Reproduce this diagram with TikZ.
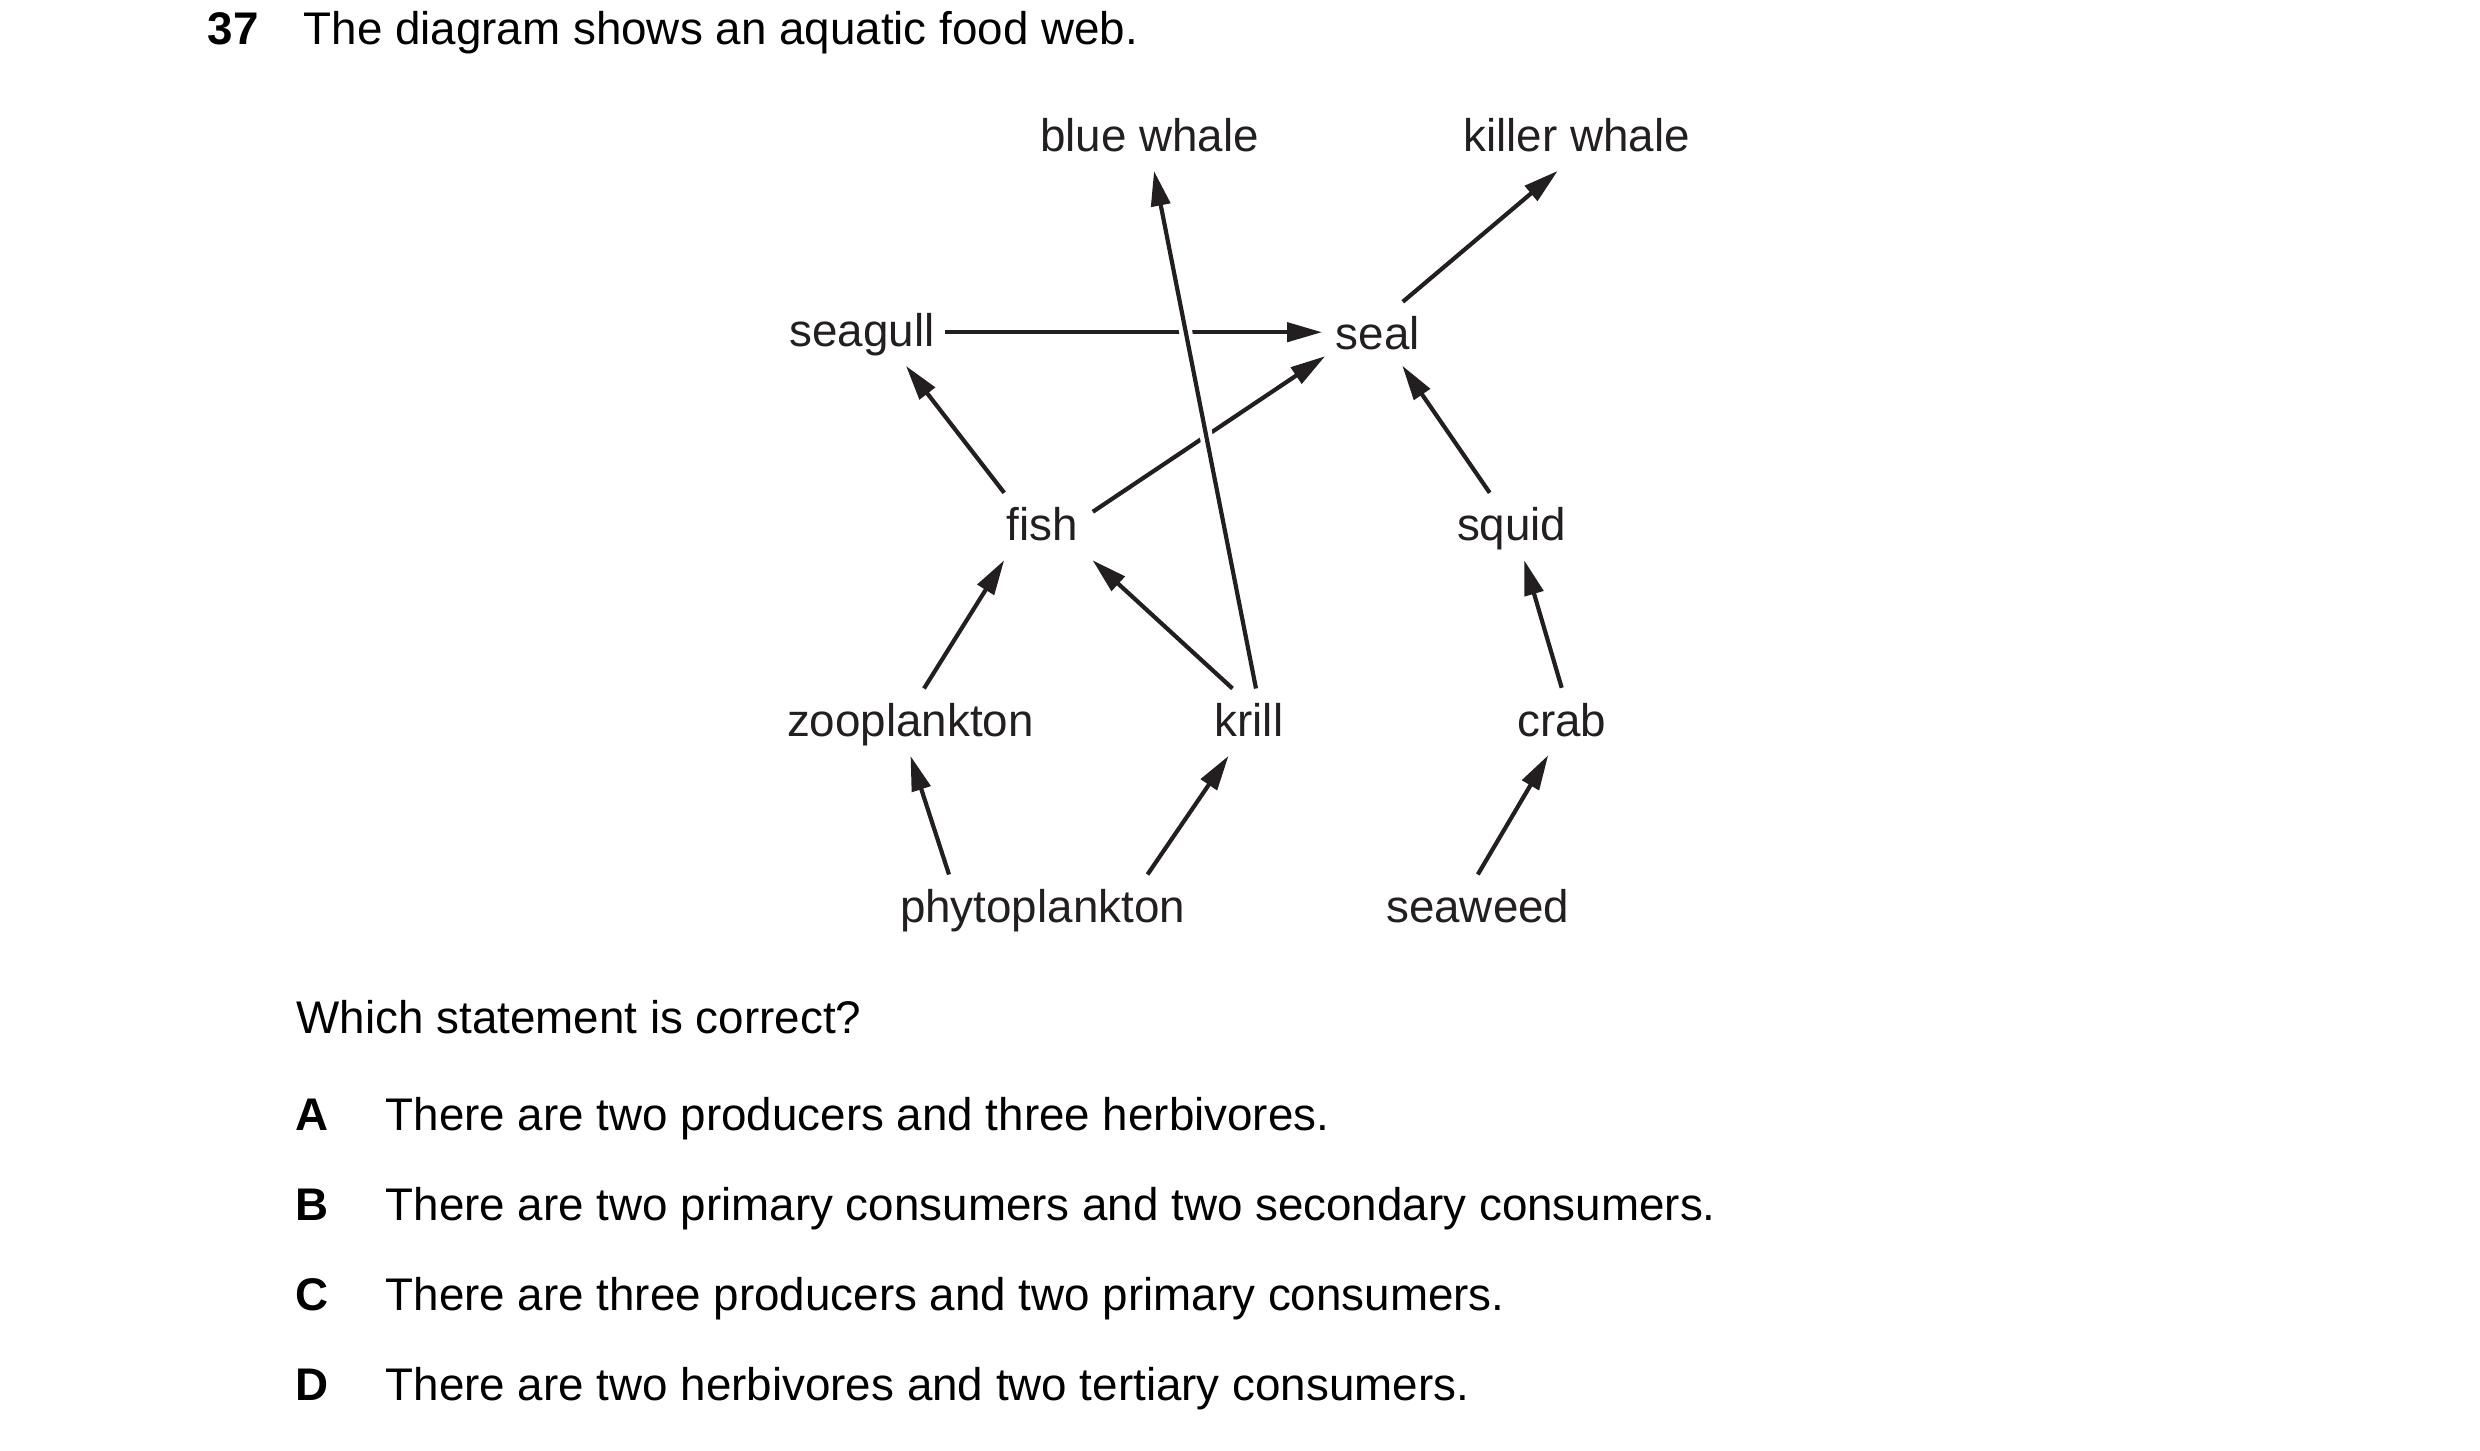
\documentclass[tikz,border=0pt]{standalone}
\usepackage{fontspec}
\setmainfont{Liberation Sans}
\usetikzlibrary{arrows.meta}
\definecolor{ink}{RGB}{35,31,32}
\newcommand{\qsize}{\fontsize{13.02pt}{15.7pt}\selectfont}

\begin{document}
\begin{tikzpicture}[x=0.1mm, y=-0.1mm, %%% one unit = one pixel of the page, y runs down
    every node/.style={font=\qsize},
    organism/.style={anchor=base, text=ink, text height=3.3mm, text depth=0.4mm, inner xsep=0.2mm, inner ysep=1.45mm},
    question/.style={anchor=base west, inner sep=0pt},
    feeds/.style={draw=ink, line width=0.42mm, -{Triangle[length=3.5mm, width=1.9mm]}}]
  \useasboundingbox (0,0) rectangle (2480,1451);

  %%% question head
  \node[question, font=\qsize\bfseries] (qnum) at (207,45) {37};
  \node[question] (qtext) at (303,45) {The diagram shows an aquatic food web.};

  %%% food web
  \node[organism] (bluewhale)   at (1149.5,151.7) {blue whale};
  \node[organism] (killerwhale) at (1576.7,151.7) {killer whale};
  \node[organism] (seagull)     at (862,346.7)    {seagull};
  \node[organism] (seal)        at (1377.8,350)   {seal};
  \node[organism] (fish)        at (1042.5,541)   {fish};
  \node[organism] (squid)       at (1511.7,541)   {squid};
  \node[organism] (zoo)         at (910.5,736.7)  {zooplankton};
  \node[organism] (krill)       at (1249,736.7)   {krill};
  \node[organism] (crab)        at (1561.7,736)   {crab};
  \node[organism] (phyto)       at (1042.5,922.7) {phytoplankton};
  \node[organism] (seaweed)     at (1477.8,922.7) {seaweed};

  \draw[feeds, shorten <=0.8mm, shorten >=1.1mm] (seagull.east) -- (seagull.east -| seal.west);
  \draw[feeds] ([xshift=2.5mm]seal.north) -- ([xshift=-1.9mm]killerwhale.south);
  \draw[feeds] (fish.north west) -- ([xshift=4.4mm]seagull.south);
  \draw[feeds] ([shift={(1.2mm,-1.9mm)}]fish.north east) -- ([shift={(-0.8mm,1.3mm)}]seal.south west);
  \draw[feeds] ([xshift=-2.2mm]squid.north) -- ([xshift=2.45mm,yshift=0.35mm]seal.south);
  \draw[feeds] ([xshift=1.35mm]zoo.north) -- (fish.south west);
  \draw[feeds] ([xshift=-1.65mm]krill.north) -- ([xshift=5mm]fish.south);
  \draw[feeds] (crab.north) -- ([xshift=1.25mm]squid.south);
  \draw[feeds] ([xshift=-9.35mm]phyto.north) -- (zoo.south);
  \draw[feeds] ([xshift=10.5mm]phyto.north) -- ([xshift=-2.05mm]krill.south);
  \draw[feeds] (seaweed.north) -- ([xshift=-1.35mm]crab.south);

  %%% krill -> blue whale crosses over the other lines
  \draw[white, line width=1.3mm, shorten <=5mm, shorten >=5mm] ([xshift=0.7mm]krill.north) -- ([xshift=0.45mm]bluewhale.south);
  \draw[feeds] ([xshift=0.7mm]krill.north) -- ([xshift=0.45mm]bluewhale.south);

  %%% answers
  \node[question] (which) at (296,1033.3) {Which statement is correct?};
  \foreach \letter/\y/\stmt in {A/1130.7/{There are two producers and three herbivores.},
      B/1220/{There are two primary consumers and two secondary consumers.},
      C/1310.7/{There are three producers and two primary consumers.},
      D/1400.7/{There are two herbivores and two tertiary consumers.}}{
    \node[question, font=\qsize\bfseries] (opt\letter) at (295,\y) {\letter};
    \node[question] (stmt\letter) at (385,\y) {\stmt};
  }
\end{tikzpicture}
\end{document}
